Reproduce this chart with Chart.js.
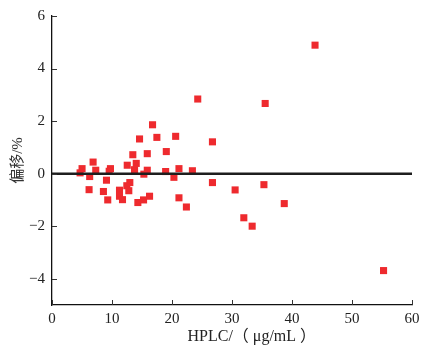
<!DOCTYPE html>
<html><head><meta charset="utf-8">
<script src="https://cdn.jsdelivr.net/npm/chart.js@4/dist/chart.umd.min.js"></script>
<style>html,body{margin:0;padding:0;background:#fff}#wrap{width:430px;height:350px}</style>
</head><body><div id="wrap"><canvas id="c" width="430" height="350"></canvas></div>
<script>
// HPLC concentration (μg/mL)
const hplc = [4.68,5.01,6.85,6.28,6.18,7.29,9.08,8.57,9.29,9.74,9.53,11.25,11.25,11.75,12.54,12.47,12.97,12.80,13.47,14.04,13.76,14.59,15.88,15.88,15.31,14.31,15.26,16.26,16.76,17.48,19.05,18.94,20.32,20.61,21.16,21.16,24.29,35.53,26.74,23.40,26.74,30.52,35.32,22.40,38.71,31.97,33.36,43.84,55.26];
// bias (%)
const bias = [0.03,0.19,0.44,-0.11,-0.61,0.13,-0.25,-0.68,-1.00,0.19,0.09,-0.63,-0.86,-0.99,0.32,-0.46,-0.34,-0.65,0.72,0.39,0.15,1.32,0.76,0.13,-0.02,-1.10,-1.00,-0.86,1.86,1.38,0.84,0.08,-0.14,1.42,0.19,-0.92,2.84,2.67,1.21,0.11,-0.34,-0.62,-0.42,-1.27,-1.14,-1.68,-2.00,4.89,-3.69];
const xTicks = [0,10,20,30,40,50,60];
const yTicks = [-4,-2,0,2,4,6];
const zeroLineX = [0,60];
const zeroLineY = [0,0];
const xTitle = 'HPLC/（ μg/mL ）';
const yTitle = '偏移/%';

const serif = '"Liberation Serif","Noto Sans CJK SC",serif';
const points = hplc.map((x,i)=>({x:x,y:bias[i]}));
const zeroLine = zeroLineX.map((x,i)=>({x:x,y:zeroLineY[i]}));

const innerTicks = {
  id:'innerTicks',
  afterDraw(chart){
    const ctx = chart.ctx, a = chart.chartArea;
    const xs = chart.scales.x, ys = chart.scales.y;
    ctx.save();
    ctx.strokeStyle = '#333';
    ctx.lineWidth = 1;
    xs.ticks.forEach(t=>{
      const px = Math.round(xs.getPixelForValue(t.value))+0.5;
      ctx.beginPath(); ctx.moveTo(px, a.bottom); ctx.lineTo(px, a.bottom-5); ctx.stroke();
    });
    ys.ticks.forEach(t=>{
      const py = Math.round(ys.getPixelForValue(t.value))+0.5;
      ctx.beginPath(); ctx.moveTo(a.left, py); ctx.lineTo(a.left+5, py); ctx.stroke();
    });
    // x-axis title
    ctx.fillStyle = '#222';
    ctx.font = '16px ' + serif;
    ctx.textAlign = 'center';
    ctx.textBaseline = 'middle';
    ctx.fillText(xTitle, a.left + (a.right-a.left)*0.555, 337);
    ctx.restore();
  }
};

new Chart(document.getElementById('c'), {
  type:'scatter',
  data:{datasets:[
    {type:'line', data:zeroLine, borderColor:'#1e1e1e', borderWidth:2.5, pointRadius:0, order:0},
    {data:points, pointStyle:'rect', pointRadius:5, pointHoverRadius:5, backgroundColor:'#ee2a2e', borderWidth:0, order:1}
  ]},
  options:{
    responsive:false, animation:false, devicePixelRatio:1,
    layout:{padding:{left:0,right:18,top:16,bottom:0}},
    plugins:{legend:{display:false}, tooltip:{enabled:false}},
    scales:{
      x:{type:'linear', min:0, max:60,
        afterBuildTicks:s=>{s.ticks = xTicks.map(v=>({value:v}));},
        afterFit:s=>{s.height = 45;},
        ticks:{font:{family:serif,size:15}, color:'#222', padding:5, maxRotation:0, autoSkip:false},
        grid:{drawOnChartArea:false, drawTicks:false},
        border:{display:true, color:'#111', width:1.3},
        title:{display:false}
      },
      y:{type:'linear', min:-5, max:6,
        afterBuildTicks:s=>{s.ticks = yTicks.map(v=>({value:v}));},
        afterFit:s=>{s.width = 52;},
        ticks:{font:{family:serif,size:15}, color:'#222', padding:7,
          callback:v=>String(v).replace('-','−')},
        grid:{drawOnChartArea:false, drawTicks:false},
        border:{display:true, color:'#111', width:1.3},
        title:{display:true, text:yTitle, font:{family:serif,size:15}, color:'#333', padding:{top:9,bottom:0}}
      }
    }
  },
  plugins:[innerTicks]
});
</script>
</body></html>
